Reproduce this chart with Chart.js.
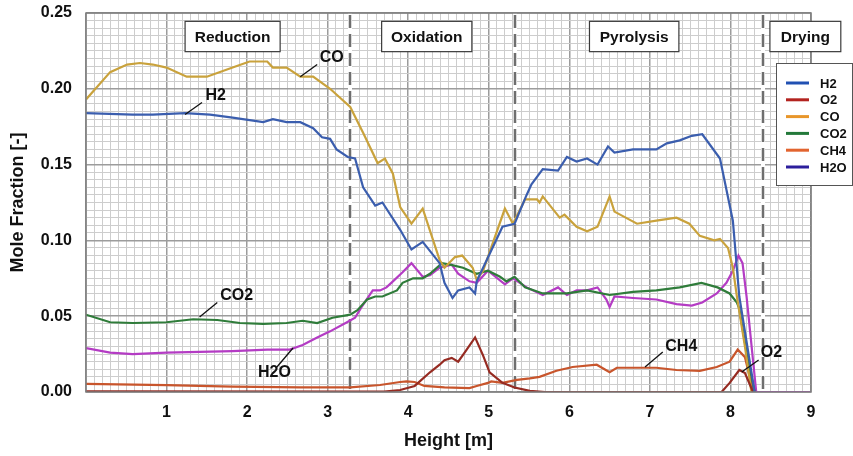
<!DOCTYPE html>
<html>
<head>
<meta charset="utf-8">
<title>Mole fraction along gasifier height</title>
<script src="https://cdn.jsdelivr.net/npm/chart.js@4.4.1/dist/chart.umd.min.js"></script>
<style>
    html, body { margin: 0; padding: 0; background: #fff; }
    #wrap { width: 853px; height: 456px; }
</style>
</head>
<body>
<div id="wrap"><canvas id="chart" width="853" height="456"></canvas></div>
<script>
/* ================= DATA ================= */
// each point: [height (m), mole fraction (-)]
const H2 = [
    [0, 0.184], [0.58, 0.183], [0.83, 0.183], [1.23, 0.184], [1.54, 0.183], [1.82, 0.181],
    [2.20, 0.178], [2.32, 0.180], [2.49, 0.178], [2.66, 0.178], [2.82, 0.174], [2.93, 0.168],
    [3.03, 0.167], [3.11, 0.160], [3.25, 0.155], [3.34, 0.154], [3.44, 0.135], [3.59, 0.123],
    [3.68, 0.125], [3.90, 0.107], [4.04, 0.094], [4.18, 0.099], [4.39, 0.085], [4.45, 0.072],
    [4.55, 0.062], [4.62, 0.067], [4.76, 0.069], [4.83, 0.065], [4.85, 0.073], [5.17, 0.109],
    [5.32, 0.111], [5.47, 0.130], [5.53, 0.137], [5.67, 0.147], [5.86, 0.146], [5.97, 0.155],
    [6.09, 0.152], [6.22, 0.154], [6.35, 0.150], [6.48, 0.162], [6.56, 0.158], [6.79, 0.160],
    [7.08, 0.160], [7.21, 0.164], [7.37, 0.166], [7.52, 0.169], [7.65, 0.170], [7.87, 0.154],
    [8.03, 0.113], [8.11, 0.063], [8.30, 0]
];
const O2 = [
    [0, 0.0005], [3.70, 0.0003], [3.90, 0.0013], [4.08, 0.004], [4.27, 0.013], [4.39, 0.018],
    [4.45, 0.021], [4.54, 0.0225], [4.62, 0.020], [4.70, 0.026], [4.83, 0.036], [4.93, 0.024],
    [5.01, 0.013], [5.17, 0.006], [5.32, 0.003], [5.51, 0.0007], [5.70, 0], [7.89, 0],
    [7.99, 0.006], [8.11, 0.0145], [8.18, 0.0125], [8.28, 0]
];
const CO = [
    [0, 0.193], [0.30, 0.211], [0.51, 0.216], [0.67, 0.217], [0.83, 0.216], [1.00, 0.214],
    [1.25, 0.208], [1.50, 0.208], [1.82, 0.214], [2.03, 0.218], [2.25, 0.218], [2.32, 0.214],
    [2.49, 0.214], [2.66, 0.208], [2.82, 0.208], [3.03, 0.200], [3.28, 0.188], [3.44, 0.171],
    [3.62, 0.151], [3.71, 0.154], [3.81, 0.144], [3.90, 0.122], [4.04, 0.111], [4.18, 0.121],
    [4.39, 0.087], [4.45, 0.082], [4.58, 0.089], [4.67, 0.090], [4.80, 0.082], [4.85, 0.074],
    [4.93, 0.080], [5.20, 0.121], [5.30, 0.111], [5.45, 0.127], [5.60, 0.127], [5.63, 0.125],
    [5.67, 0.129], [5.88, 0.115], [5.94, 0.117], [6.09, 0.109], [6.22, 0.106], [6.35, 0.109],
    [6.50, 0.129], [6.56, 0.119], [6.84, 0.111], [7.08, 0.113], [7.33, 0.115], [7.49, 0.111],
    [7.62, 0.103], [7.80, 0.100], [7.87, 0.101], [7.97, 0.095], [8.03, 0.082], [8.08, 0.063],
    [8.18, 0.030], [8.26, 0]
];
const CO2 = [
    [0, 0.051], [0.30, 0.046], [0.58, 0.0455], [1.00, 0.046], [1.33, 0.048], [1.63, 0.0475],
    [1.91, 0.0455], [2.20, 0.045], [2.49, 0.0455], [2.69, 0.047], [2.87, 0.0455], [3.06, 0.049],
    [3.28, 0.051], [3.37, 0.054], [3.49, 0.061], [3.59, 0.063], [3.68, 0.063], [3.86, 0.067],
    [3.93, 0.072], [4.06, 0.075], [4.18, 0.075], [4.27, 0.078], [4.42, 0.085], [4.52, 0.084],
    [4.68, 0.082], [4.85, 0.078], [4.99, 0.080], [5.14, 0.076], [5.22, 0.073], [5.32, 0.076],
    [5.45, 0.069], [5.67, 0.065], [5.97, 0.065], [6.22, 0.067], [6.50, 0.064], [6.79, 0.066],
    [7.08, 0.067], [7.37, 0.069], [7.64, 0.072], [7.84, 0.069], [7.99, 0.065], [8.08, 0.059],
    [8.11, 0.055], [8.21, 0.023], [8.30, 0]
];
const CH4 = [
    [0, 0.0053], [1.00, 0.0046], [1.82, 0.0035], [2.66, 0.003], [3.28, 0.003], [3.65, 0.0046],
    [3.90, 0.0066], [3.98, 0.007], [4.08, 0.0066], [4.20, 0.004], [4.45, 0.003], [4.76, 0.0026],
    [4.85, 0.004], [4.99, 0.006], [5.03, 0.007], [5.17, 0.006], [5.35, 0.008], [5.51, 0.009],
    [5.63, 0.010], [5.84, 0.014], [6.04, 0.0165], [6.34, 0.018], [6.50, 0.013], [6.59, 0.016],
    [6.79, 0.016], [7.08, 0.016], [7.33, 0.0145], [7.62, 0.014], [7.83, 0.0165], [7.99, 0.020],
    [8.09, 0.028], [8.18, 0.023], [8.28, 0.001]
];
const H2O = [
    [0, 0.029], [0.30, 0.026], [0.58, 0.025], [1.00, 0.026], [1.41, 0.0265], [1.82, 0.027],
    [2.25, 0.028], [2.53, 0.028], [2.69, 0.031], [2.87, 0.036], [3.03, 0.040], [3.24, 0.046],
    [3.34, 0.049], [3.42, 0.056], [3.56, 0.067], [3.65, 0.067], [3.73, 0.069], [3.81, 0.073],
    [3.93, 0.079], [4.04, 0.085], [4.18, 0.076], [4.27, 0.077], [4.39, 0.082], [4.54, 0.084],
    [4.62, 0.078], [4.76, 0.073], [4.85, 0.072], [4.99, 0.080], [5.20, 0.071], [5.30, 0.075],
    [5.47, 0.069], [5.67, 0.064], [5.86, 0.069], [5.97, 0.064], [6.09, 0.067], [6.22, 0.067],
    [6.35, 0.069], [6.46, 0.061], [6.50, 0.056], [6.56, 0.063], [6.79, 0.062], [7.08, 0.061],
    [7.33, 0.058], [7.52, 0.057], [7.65, 0.059], [7.83, 0.065], [7.95, 0.072], [8.03, 0.080],
    [8.10, 0.090], [8.15, 0.085], [8.20, 0.063], [8.32, 0], [9.00, 0]
];

const SERIES_NAMES = ['H2', 'O2', 'CO', 'CO2', 'CH4', 'H2O'];
const SERIES_DATA = [H2, O2, CO, CO2, CH4, H2O];

// zone boundaries (m) and zone names
const ZONE_EDGES = [3.28, 5.33, 8.41];
const ZONE_NAMES = ['Reduction', 'Oxidation', 'Pyrolysis', 'Drying'];

// axis ticks
const X_MIN = 0, X_MAX = 9, X_STEP = 0.1;
const Y_MIN = 0, Y_MAX = 0.25, Y_STEP = 0.005;

/* ================= STYLE / LAYOUT ================= */
const FONT = '"Liberation Sans", Arial, Helvetica, sans-serif';
const LINE_COLORS = ['#3b5eae', '#962b22', '#c9a23c', '#2f7c3a', '#c8552c', '#b43cc4'];
// the legend swatches in the original do not match the plotted lines
const LEGEND_COLORS = ['#2150b2', '#b3231f', '#e8962a', '#23793a', '#e2642f', '#2c1e9c'];

// zone label boxes: [x from, x to] in metres, shared y band in mole fraction
const ZONE_BOX_X = [[1.23, 2.41], [3.67, 4.79], [6.25, 7.36], [8.49, 9.37]];
const ZONE_BOX_Y = [0.2245, 0.2445];

// line call-outs: text centre, leader start (on the curve), leader end
const CALLOUTS = [
    { text: 'H2',  at: [1.61, 0.1955], from: [1.23, 0.183],  to: [1.44, 0.191] },
    { text: 'CO',  at: [3.05, 0.2205], from: [2.66, 0.208],  to: [2.87, 0.216] },
    { text: 'CO2', at: [1.87, 0.0635], from: [1.41, 0.0495], to: [1.63, 0.059] },
    { text: 'H2O', at: [2.34, 0.0125], from: [2.37, 0.0165], to: [2.57, 0.029] },
    { text: 'CH4', at: [7.39, 0.0297], from: [6.94, 0.0165], to: [7.16, 0.0264] },
    { text: 'O2',  at: [8.51, 0.0257], from: [8.14, 0.0132], to: [8.35, 0.0211] }
];

const isMajorX = v => Math.abs(v - Math.round(v)) < 1e-6;
const isMajorY = v => Math.round(v * 1000) % 50 === 0;

/* ================= OVERLAY PLUGIN ================= */
const overlayPlugin = {
    id: 'overlay',
    beforeDatasetsDraw(chart) {
        const { ctx, chartArea: a, scales: { x } } = chart;
        ctx.save();
        ZONE_EDGES.forEach(h => {
            const px = Math.round(x.getPixelForValue(h));
            ctx.strokeStyle = '#ffffff';
            ctx.lineWidth = 4;
            ctx.setLineDash([]);
            ctx.beginPath(); ctx.moveTo(px, a.top); ctx.lineTo(px, a.bottom); ctx.stroke();
            ctx.strokeStyle = '#6e6e6e';
            ctx.lineWidth = 2.5;
            ctx.setLineDash([13, 6]);
            ctx.beginPath(); ctx.moveTo(px, a.top + 2); ctx.lineTo(px, a.bottom); ctx.stroke();
        });
        ctx.restore();
    },
    afterDraw(chart) {
        const { ctx, chartArea: a, scales: { x, y } } = chart;
        const P = (v, w) => [x.getPixelForValue(v), y.getPixelForValue(w)];
        ctx.save();

        // plot frame
        ctx.strokeStyle = '#7d7d7d';
        ctx.lineWidth = 1.5;
        ctx.strokeRect(a.left, a.top, a.right - a.left, a.bottom - a.top);

        // zone boxes
        ctx.font = 'bold 15.5px ' + FONT;
        ctx.textAlign = 'center';
        ctx.textBaseline = 'middle';
        ZONE_NAMES.forEach((name, i) => {
            const [x0, y0] = P(ZONE_BOX_X[i][0], ZONE_BOX_Y[1]);
            const [x1, y1] = P(ZONE_BOX_X[i][1], ZONE_BOX_Y[0]);
            ctx.fillStyle = '#ffffff';
            ctx.fillRect(x0, y0, x1 - x0, y1 - y0);
            ctx.strokeStyle = '#3a3a3a';
            ctx.lineWidth = 1.2;
            ctx.strokeRect(x0, y0, x1 - x0, y1 - y0);
            ctx.fillStyle = '#111';
            ctx.fillText(name, (x0 + x1) / 2, (y0 + y1) / 2 + 1);
        });

        // call-outs with leader lines
        ctx.font = 'bold 16px ' + FONT;
        CALLOUTS.forEach(c => {
            const [fx, fy] = P(...c.from);
            const [tx, ty] = P(...c.to);
            ctx.strokeStyle = '#111';
            ctx.lineWidth = 1.3;
            ctx.beginPath(); ctx.moveTo(fx, fy); ctx.lineTo(tx, ty); ctx.stroke();
            const [lx, ly] = P(...c.at);
            ctx.fillStyle = '#111';
            ctx.fillText(c.text, lx, ly);
        });

        // legend box, partly outside the plot on the right
        const lx = a.right - 35, ly = a.top + 50, lw = 853 - lx - 1, lh = 122;
        ctx.fillStyle = '#ffffff';
        ctx.fillRect(lx, ly, lw, lh);
        ctx.strokeStyle = '#555';
        ctx.lineWidth = 1;
        ctx.strokeRect(lx + 0.5, ly + 0.5, lw, lh);
        ctx.font = 'bold 13px ' + FONT;
        ctx.textAlign = 'left';
        SERIES_NAMES.forEach((name, i) => {
            const rowY = ly + 20 + i * 16.8;
            ctx.strokeStyle = LEGEND_COLORS[i];
            ctx.lineWidth = 3;
            ctx.beginPath(); ctx.moveTo(lx + 10, rowY); ctx.lineTo(lx + 33, rowY); ctx.stroke();
            ctx.fillStyle = '#111';
            ctx.fillText(name, lx + 44, rowY + 1);
        });
        ctx.restore();
    }
};

/* ================= CHART ================= */
function initChart() {
    const ctx = document.getElementById('chart').getContext('2d');
    const datasets = SERIES_NAMES.map((name, i) => ({
        label: name,
        data: SERIES_DATA[i].map(p => ({ x: p[0], y: p[1] })),
        borderColor: LINE_COLORS[i],
        backgroundColor: LINE_COLORS[i],
        borderWidth: 2.2,
        pointRadius: 0,
        tension: 0,
        fill: false
    }));

    new Chart(ctx, {
        type: 'line',
        data: { datasets },
        options: {
            responsive: false,
            animation: false,
            devicePixelRatio: 1,
            layout: { padding: { left: 0, top: 13, right: 42, bottom: 0 } },
            plugins: { legend: { display: false }, tooltip: { enabled: false } },
            scales: {
                x: {
                    type: 'linear',
                    min: X_MIN, max: X_MAX,
                    afterFit: s => { s.height = 64; s.paddingRight = 0; s.paddingLeft = 0; },
                    ticks: {
                        stepSize: X_STEP,
                        autoSkip: false,
                        maxTicksLimit: 1000,
                        maxRotation: 0, minRotation: 0,
                        padding: 11,
                        color: '#111',
                        font: { family: FONT, size: 16, weight: 'bold' },
                        callback: v => (isMajorX(v) && v > 0.5) ? String(Math.round(v)) : ''
                    },
                    grid: {
                        drawTicks: false,
                        color: c => (c.tick && isMajorX(c.tick.value)) ? '#9c9c9c' : '#cdcdcd',
                        lineWidth: c => (c.tick && isMajorX(c.tick.value)) ? 1.5 : 1
                    },
                    border: { display: false },
                    title: {
                        display: true, text: 'Height [m]', color: '#111',
                        font: { family: FONT, size: 18, weight: 'bold' },
                        padding: { top: 0, bottom: 4 }
                    }
                },
                y: {
                    min: Y_MIN, max: Y_MAX,
                    // the tick padding would otherwise push the plot top down
                    afterFit: s => { s.width = 86; s.paddingTop = 0; s.paddingBottom = 0; },
                    ticks: {
                        stepSize: Y_STEP,
                        autoSkip: false,
                        maxTicksLimit: 1000,
                        padding: 14,
                        color: '#111',
                        font: { family: FONT, size: 16, weight: 'bold' },
                        callback: v => isMajorY(v) ? v.toFixed(2) : ''
                    },
                    grid: {
                        drawTicks: false,
                        color: c => (c.tick && isMajorY(c.tick.value)) ? '#9c9c9c' : '#cdcdcd',
                        lineWidth: c => (c.tick && isMajorY(c.tick.value)) ? 1.5 : 1
                    },
                    border: { display: false },
                    title: {
                        display: true, text: 'Mole Fraction [-]', color: '#111',
                        font: { family: FONT, size: 18, weight: 'bold' },
                        padding: { top: 7, bottom: 0 }
                    }
                }
            }
        },
        plugins: [overlayPlugin]
    });
}

document.addEventListener('DOMContentLoaded', initChart);
</script>
</body>
</html>
